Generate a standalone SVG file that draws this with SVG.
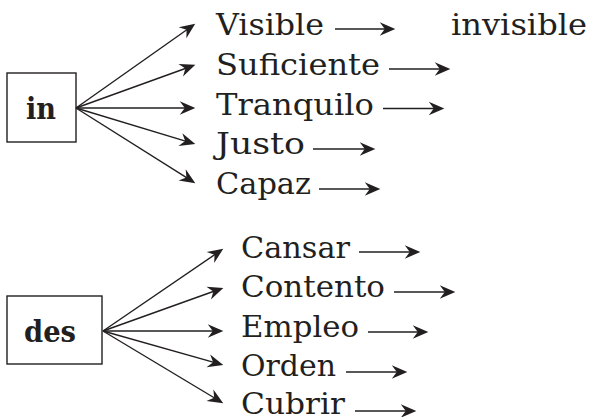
<svg xmlns="http://www.w3.org/2000/svg" width="591" height="417" viewBox="0 0 591 417">
<style>
.t{font-family:"DejaVu Serif","Liberation Serif",serif;font-size:30px;fill:#231f20}
.b{font-family:"DejaVu Serif","Liberation Serif",serif;font-size:29px;font-weight:bold;fill:#231f20}
.box{fill:#fff;stroke:#231f20;stroke-width:1.4}
.c line{stroke:#231f20;stroke-width:1.4;fill:none;marker-end:url(#ah)}
</style>
<defs>
<marker id="ah" markerUnits="userSpaceOnUse" markerWidth="20" markerHeight="20" viewBox="-12 -8 18 16" refX="0" refY="0" orient="auto" overflow="visible">
<path d="M3,0 L-11,-6 L-6.5,0 L-11,6 Z" fill="#231f20"/>
</marker>
</defs>
<rect width="591" height="417" fill="#fff"/>
<g id="node-in"><rect class="box" x="7" y="73" width="69" height="69"/><text class="b" x="26" y="119" textLength="30" lengthAdjust="spacingAndGlyphs">in</text></g>
<g id="node-des"><rect class="box" x="7" y="296" width="95" height="68"/><text class="b" x="24" y="342" textLength="52" lengthAdjust="spacingAndGlyphs">des</text></g>
<g id="node-visible"><text class="t" x="216" y="35" textLength="108" lengthAdjust="spacingAndGlyphs">Visible</text></g>
<g id="node-suficiente"><text class="t" x="216" y="75" textLength="164" lengthAdjust="spacingAndGlyphs">Suficiente</text></g>
<g id="node-tranquilo"><text class="t" x="216" y="115" textLength="158" lengthAdjust="spacingAndGlyphs">Tranquilo</text></g>
<g id="node-justo"><text class="t" x="216" y="154" textLength="89" lengthAdjust="spacingAndGlyphs">Justo</text></g>
<g id="node-capaz"><text class="t" x="216" y="194" textLength="95" lengthAdjust="spacingAndGlyphs">Capaz</text></g>
<g id="node-invisible"><text class="t" x="451" y="35" textLength="136" lengthAdjust="spacingAndGlyphs">invisible</text></g>
<g id="node-cansar"><text class="t" x="241" y="258" textLength="109" lengthAdjust="spacingAndGlyphs">Cansar</text></g>
<g id="node-contento"><text class="t" x="241" y="297" textLength="144" lengthAdjust="spacingAndGlyphs">Contento</text></g>
<g id="node-empleo"><text class="t" x="241" y="337" textLength="118" lengthAdjust="spacingAndGlyphs">Empleo</text></g>
<g id="node-orden"><text class="t" x="241" y="376" textLength="95" lengthAdjust="spacingAndGlyphs">Orden</text></g>
<g id="node-cubrir"><text class="t" x="241" y="414" textLength="104" lengthAdjust="spacingAndGlyphs">Cubrir</text></g>
<g id="connectors" class="c">
<line x1="76" y1="108" x2="192.5" y2="25.7"/>
<line x1="76" y1="108" x2="192.2" y2="66"/>
<line x1="76" y1="108" x2="192" y2="108"/>
<line x1="76" y1="108" x2="192.1" y2="143.1"/>
<line x1="76" y1="108" x2="192.5" y2="181.4"/>
<line x1="103" y1="331" x2="220.5" y2="250.7"/>
<line x1="103" y1="331" x2="220.2" y2="289"/>
<line x1="103" y1="331" x2="220" y2="331"/>
<line x1="103" y1="331" x2="220.1" y2="364.2"/>
<line x1="103" y1="331" x2="220.4" y2="401.5"/>
<line x1="335" y1="29" x2="392" y2="29"/>
<line x1="389" y1="69" x2="447" y2="69"/>
<line x1="383" y1="108.5" x2="441" y2="108.5"/>
<line x1="313" y1="149" x2="372" y2="149"/>
<line x1="319" y1="189" x2="377" y2="189"/>
<line x1="359" y1="252" x2="417" y2="252"/>
<line x1="394" y1="292" x2="452" y2="292"/>
<line x1="368" y1="332" x2="425" y2="332"/>
<line x1="346" y1="372" x2="404" y2="372"/>
<line x1="355" y1="411" x2="413" y2="411"/>
</g>
</svg>
